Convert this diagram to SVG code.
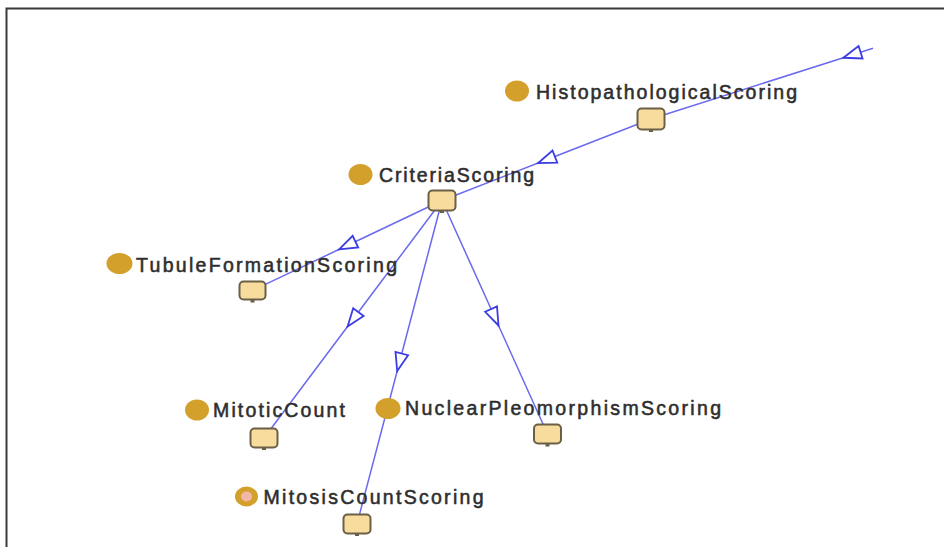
<svg xmlns="http://www.w3.org/2000/svg" width="944" height="547" viewBox="0 0 944 547">
  <style>
    .frame { stroke: #3a3a3a; stroke-width: 2; fill: none; }
    .edge { fill: none; stroke: #6a6aee; stroke-width: 1.5; marker-mid: url(#hollow); }
    .cls { fill: #d4a02c; }
    .cls-ring { fill: #d4a02c; }
    .cls-core { fill: #f2b7a6; }
    .box { fill: #f8dc9e; stroke: #6b6046; stroke-width: 2; }
    .stem { fill: #6b6046; }
    .label { font-family: "Liberation Sans", Arial, sans-serif; font-size: 19.5px; fill: #2e2e2e; stroke: #2e2e2e; stroke-width: 0.55; }
  </style>
  <defs>
    <marker id="hollow" markerUnits="userSpaceOnUse" markerWidth="26" markerHeight="20" viewBox="-13 -10 26 20" refX="0" refY="0" orient="auto">
      <path d="M 9 0 L -9 -6.5 L -9 6.5 Z" fill="#ffffff" stroke="#3c3ce4" stroke-width="1.8" stroke-linejoin="miter"/>
    </marker>
  </defs>

  <rect width="944" height="547" fill="#ffffff"/>
  <path class="frame" d="M 6.5 547 L 6.5 8.5 L 944 8.5"/>

  <g id="connectors">
    <path class="edge" d="M 873 48.3 L 852 55 L 651 119"/>
    <path class="edge" d="M 651 119 L 546.5 159.8 L 442 200.5"/>
    <path class="edge" d="M 442 200.5 L 347.3 245.5 L 252.5 290.5"/>
    <path class="edge" d="M 442 200.5 L 353 319.3 L 264 438"/>
    <path class="edge" d="M 442 200.5 L 399.5 362.3 L 357 524"/>
    <path class="edge" d="M 442 200.5 L 494.8 317.3 L 547.5 434"/>
  </g>

  <g id="HistopathologicalScoring">
    <ellipse class="cls" cx="517" cy="91" rx="12" ry="10.5"/>
    <text class="label" x="536" y="99" textLength="261" lengthAdjust="spacing">HistopathologicalScoring</text>
    <rect class="stem" x="649" y="129" width="4" height="3"/>
    <rect class="box" x="637.5" y="108.5" width="27" height="21" rx="4"/>
  </g>

  <g id="CriteriaScoring">
    <ellipse class="cls" cx="360.5" cy="174.5" rx="12" ry="10.5"/>
    <text class="label" x="379" y="182" textLength="155" lengthAdjust="spacing">CriteriaScoring</text>
    <rect class="stem" x="440" y="210" width="4" height="3"/>
    <rect class="box" x="428.5" y="190.5" width="27" height="20" rx="4"/>
  </g>

  <g id="TubuleFormationScoring">
    <ellipse class="cls" cx="119.5" cy="263.5" rx="13" ry="10.5"/>
    <text class="label" x="136" y="272" textLength="261" lengthAdjust="spacing">TubuleFormationScoring</text>
    <rect class="stem" x="250.5" y="299.5" width="4" height="3"/>
    <rect class="box" x="239.5" y="281.5" width="26" height="18" rx="4"/>
  </g>

  <g id="MitoticCount">
    <ellipse class="cls" cx="197" cy="410" rx="12" ry="10.5"/>
    <text class="label" x="213" y="417" textLength="132" lengthAdjust="spacing">MitoticCount</text>
    <rect class="stem" x="262" y="447" width="4" height="3"/>
    <rect class="box" x="250.5" y="428.5" width="27" height="19" rx="4"/>
  </g>

  <g id="NuclearPleomorphismScoring">
    <ellipse class="cls" cx="388" cy="408.5" rx="12.5" ry="10.5"/>
    <text class="label" x="405" y="415" textLength="316" lengthAdjust="spacing">NuclearPleomorphismScoring</text>
    <rect class="stem" x="545.5" y="443.5" width="4" height="3"/>
    <rect class="box" x="534" y="424.5" width="27" height="19" rx="4"/>
  </g>

  <g id="MitosisCountScoring">
    <ellipse class="cls-ring" cx="246.5" cy="496.5" rx="11.5" ry="10"/>
    <ellipse class="cls-core" cx="246.5" cy="496.5" rx="5.5" ry="5"/>
    <text class="label" x="263.5" y="504" textLength="220" lengthAdjust="spacing">MitosisCountScoring</text>
    <rect class="stem" x="355" y="533" width="4" height="3"/>
    <rect class="box" x="343.5" y="514.5" width="27" height="19" rx="4"/>
  </g>
</svg>
